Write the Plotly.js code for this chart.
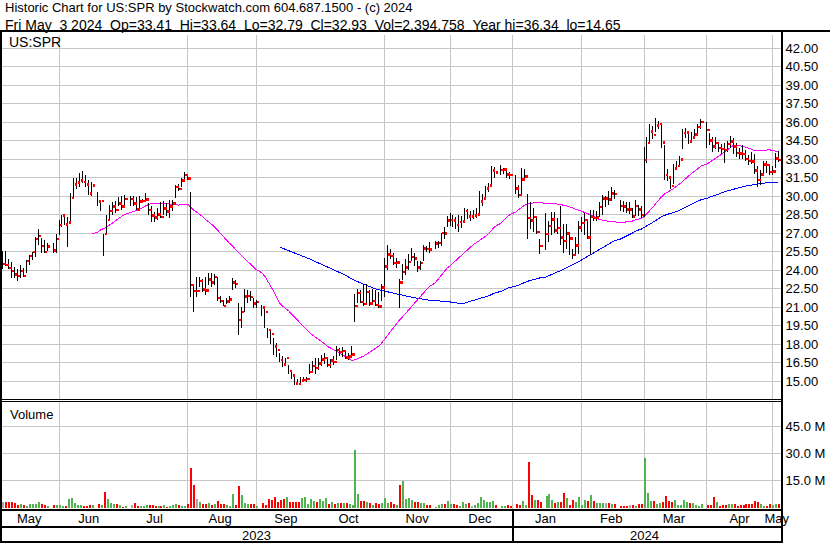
<!DOCTYPE html>
<html><head><meta charset="utf-8">
<script src="https://cdn.plot.ly/plotly-3.0.1.min.js"></script>
<style>html,body{margin:0;padding:0;background:#fff;}#chart{width:830px;height:543px;}
#chart .scatterlayer path, #chart .barlayer path, #chart .shapelayer path { shape-rendering: crispEdges; }
</style>
</head><body><div id="chart"></div>
<script>
// ---------- data ----------
const firstDay = '2023-05-05';
const lastDay = '2024-05-03';
const holidays = ['2023-05-29','2023-06-19','2023-07-04','2023-09-04','2023-11-23','2023-12-25','2024-01-01','2024-01-15','2024-02-19','2024-03-29'];

const closes = [
 24.50,24.40,24.15,23.90,23.65,23.50,23.90,23.50,24.75,25.15,25.45,26.50,26.75,25.95,25.45,25.90,25.60,26.50,
 27.65,28.40,27.70,27.85,29.85,30.95,31.10,31.25,31.15,30.95,30.20,30.85,29.55,29.60,26.90,28.05,28.80,29.15,28.85,29.40,29.15,
 29.75,29.75,29.40,28.90,29.55,29.60,29.70,28.85,28.40,28.25,28.50,28.30,29.00,28.75,29.15,29.40,30.75,30.55,31.25,31.70,
 31.40,22.80,22.30,22.30,23.10,22.40,22.35,23.25,23.00,23.45,21.75,21.50,21.10,21.45,21.60,23.00,22.85,19.95,20.60,21.85,21.90,21.80,21.30,
 21.40,20.95,20.60,19.15,18.80,17.80,17.50,16.70,16.35,16.85,15.80,15.45,14.80,14.75,15.05,15.10,15.15,15.75,16.20,16.05,
 16.40,16.75,16.85,16.30,16.65,16.55,17.50,17.35,17.45,16.90,17.00,17.15,21.10,22.15,21.40,21.25,22.20,21.30,21.50,21.15,21.05,22.60,
 24.30,25.25,25.15,24.55,24.60,23.00,23.85,24.20,24.65,25.05,24.95,24.20,24.55,25.75,25.70,25.65,26.15,26.20,27.00,26.95,28.00,
 28.05,28.00,27.65,27.90,27.95,28.80,28.35,28.35,28.40,28.50,29.55,29.80,30.60,30.85,32.05,31.90,32.10,32.15,31.75,31.70,
 30.60,30.10,31.35,31.60,28.20,28.00,28.30,27.10,25.95,26.90,27.55,28.10,27.20,27.40,26.65,26.35,26.95,26.55,25.20,26.00,27.45,
 27.80,28.05,26.65,28.30,28.20,28.25,29.10,29.80,29.80,29.70,30.20,30.15,29.20,29.15,28.90,28.90,28.35,29.20,28.90,28.45,
 32.90,34.30,35.25,34.95,35.70,35.85,34.35,31.70,31.50,30.80,32.25,32.45,32.95,35.10,35.15,34.40,34.75,35.00,35.60,36.00,
 35.35,34.50,34.00,34.30,33.90,33.80,33.75,34.20,34.40,34.00,33.50,33.45,33.40,33.00,32.85,32.80,32.05,31.30,31.75,32.55,32.50,31.95,
 32.00,33.05,32.93
];
const highs = [
 25.55,25.55,24.90,24.65,24.25,24.10,24.40,24.20,24.80,25.20,25.50,26.65,27.30,26.60,26.45,26.20,26.20,26.90,
 28.05,28.50,28.45,28.30,30.25,31.50,31.50,31.85,32.00,31.70,31.30,31.15,30.35,29.70,26.95,28.45,29.25,29.55,29.60,29.95,30.00,
 30.10,30.00,30.00,29.95,30.00,29.75,30.25,29.45,29.15,28.70,29.00,29.50,29.60,29.45,29.70,29.70,30.90,31.00,31.45,31.95,
 31.80,30.35,22.80,23.45,23.45,23.30,23.45,23.75,23.75,23.70,23.45,21.90,21.60,21.75,21.90,23.35,23.20,21.30,21.00,22.50,22.35,22.30,21.75,
 21.60,21.20,21.05,19.30,19.20,18.45,18.10,17.25,17.00,16.90,16.30,15.90,15.45,15.20,15.30,15.30,15.35,16.35,16.65,16.90,
 16.90,17.10,17.30,16.90,16.80,17.00,17.85,17.70,17.75,17.50,17.25,17.80,22.05,22.45,22.40,22.90,22.90,22.40,22.50,22.40,22.20,22.90,
 25.00,26.00,25.70,25.35,25.00,23.30,24.50,24.90,25.30,25.80,25.40,24.70,24.75,26.00,25.95,26.30,26.35,26.35,27.00,27.45,28.40,
 28.60,28.45,28.30,28.50,28.35,29.00,28.95,28.80,28.90,29.00,30.40,30.15,30.85,31.05,32.45,32.35,32.50,32.30,32.20,31.95,
 31.70,30.90,32.25,32.20,30.20,29.50,29.00,28.30,26.50,28.60,28.00,28.70,28.70,28.20,29.20,27.70,27.70,26.90,25.70,26.70,28.00,
 28.30,28.60,28.00,28.90,28.90,28.80,29.50,30.10,30.00,30.40,30.75,30.50,29.70,29.60,29.50,29.55,29.00,29.70,29.30,29.20,
 34.00,34.80,35.80,35.70,36.34,36.10,35.90,34.10,32.20,31.50,32.60,32.80,33.25,35.40,35.50,35.20,35.20,35.40,35.80,36.25,
 36.00,35.10,34.80,34.80,34.40,34.20,34.30,34.50,34.90,34.70,34.30,33.90,34.10,33.70,33.30,33.60,33.40,32.40,32.10,32.80,32.80,32.60,
 32.40,33.50,33.64
];
const lows = [
 24.10,24.30,24.10,23.35,23.35,23.10,23.35,23.45,23.75,24.40,24.80,25.05,26.00,25.40,25.40,25.55,25.40,25.40,
 26.85,27.50,27.65,25.85,27.80,29.90,30.60,30.75,31.05,30.75,30.10,30.00,29.15,28.75,25.15,26.85,28.05,28.45,28.60,29.15,28.85,
 29.15,29.15,29.15,28.85,28.90,29.45,29.55,28.45,27.90,27.90,28.05,28.20,28.45,28.35,28.25,28.80,29.85,30.40,30.75,31.15,
 31.30,21.85,20.60,21.85,22.60,22.20,22.00,22.80,22.60,22.80,21.45,21.30,21.05,21.25,21.30,22.40,22.55,18.70,19.30,20.60,21.35,21.45,20.90,
 20.90,20.25,19.30,18.50,18.00,17.10,16.95,16.55,16.10,16.30,15.55,15.20,14.65,14.65,14.80,14.90,14.95,15.60,15.75,15.60,
 15.90,16.20,16.40,16.10,16.05,16.30,16.70,17.05,16.95,16.75,16.70,17.00,19.75,21.35,21.35,21.10,21.20,21.10,21.20,21.10,20.95,21.50,
 21.80,24.00,24.90,24.40,24.20,20.95,23.20,23.60,24.00,24.70,24.30,23.85,24.00,24.70,25.45,25.40,25.70,25.80,25.95,26.55,27.45,
 27.60,27.50,27.35,27.10,27.40,27.90,28.10,28.00,28.10,28.20,28.50,29.20,29.70,30.30,30.80,31.50,31.70,31.80,31.50,31.40,
 30.20,29.85,30.10,31.20,26.55,27.30,27.10,26.95,25.30,25.60,26.30,26.80,27.00,26.95,26.00,25.40,25.70,25.25,24.90,25.30,25.30,
 27.10,26.80,26.50,25.30,28.00,27.95,28.30,28.50,29.10,29.30,29.60,29.75,28.75,28.70,28.60,28.55,28.25,28.40,28.40,28.20,
 28.30,32.70,34.20,34.60,35.20,35.40,33.90,31.30,31.20,30.60,31.00,32.10,32.45,33.80,34.70,34.20,34.30,34.60,34.90,35.40,
 33.90,34.10,33.60,33.80,33.60,33.40,32.70,33.60,33.90,33.40,33.20,33.00,33.00,32.80,32.50,32.60,31.80,30.70,30.90,31.60,31.90,31.70,
 31.70,32.30,32.79
];
// volume in millions of shares
const volumes = [
 3.1,3.1,3.5,3.1,2.9,1.9,2.3,1.9,1.2,2.3,2.3,2.3,3.5,2.3,1.9,1.2,1.5,1.5,
 1.5,1.2,1.2,5.2,5.6,2.9,1.7,1.7,1.2,1.2,1.7,1.7,2.3,1.7,8.7,5.2,2.9,2.1,2.1,1.7,0.8,
 1.0,1.7,2.9,1.3,1.2,1.3,1.5,1.7,1.5,1.2,1.3,1.2,1.5,0.4,1.2,1.7,2.1,1.9,1.2,1.2,
 2.3,21.9,12.7,5.2,3.3,2.3,2.3,2.9,1.5,2.3,3.8,2.3,2.3,1.7,1.2,7.5,1.7,12.1,6.9,2.9,2.3,2.3,2.3,
 1.2,2.9,1.7,5.2,4.6,6.3,3.1,4.6,5.2,6.3,3.3,3.3,3.3,3.1,5.6,6.3,2.1,5.0,3.8,3.5,
 5.0,3.8,5.4,2.3,3.3,2.3,2.9,2.9,2.7,2.9,2.1,1.7,32.1,7.9,3.8,3.8,3.1,2.5,1.7,2.7,2.3,2.9,
 5.6,2.9,3.5,2.3,1.7,12.7,14.8,5.2,5.6,4.2,3.5,3.1,2.9,2.9,1.5,1.7,0.4,1.7,2.1,2.1,3.8,
 2.1,2.1,1.7,1.3,3.3,2.1,2.9,1.3,1.7,2.9,6.3,4.2,3.3,3.3,3.8,1.5,1.0,1.2,1.7,1.0,
 2.1,1.7,3.8,1.7,25.2,7.3,4.2,4.6,3.3,6.7,7.9,4.2,2.9,3.1,3.1,8.5,5.6,1.7,4.2,3.3,6.2,
 1.5,4.2,3.8,7.3,3.8,2.7,2.7,2.7,2.7,2.7,2.3,2.3,1.0,1.0,1.0,1.5,1.5,1.3,2.3,2.3,
 27.5,8.5,3.8,4.0,2.3,2.7,3.5,6.7,3.8,3.1,4.2,1.5,1.5,4.2,3.1,2.7,2.7,1.7,1.0,2.1,
 1.7,1.7,6.2,3.3,1.3,1.5,1.5,2.1,2.1,2.1,1.0,1.7,1.5,2.1,2.3,2.1,3.7,3.1,2.1,1.2,1.3,2.1,
 1.5,2.1,2.4
];
const maShort = 30, maLong = 90;

const monthStarts = ['2023-06-01','2023-07-01','2023-08-01','2023-09-01','2023-10-01','2023-11-01','2023-12-01','2024-01-01','2024-02-01','2024-03-01','2024-04-01','2024-05-01'];
const monthLabels = ['May','Jun','Jul','Aug','Sep','Oct','Nov','Dec','Jan','Feb','Mar','Apr','May'];
const monthLabelDates = ['2023-05-18','2023-06-15','2023-07-17','2023-08-16','2023-09-15','2023-10-16','2023-11-16','2023-12-15','2024-01-16','2024-02-15','2024-03-15','2024-04-16','2024-05-02 12:00'];
const yearLabels = ['2023','2024'];
const yearLabelDates = ['2023-09-01','2024-03-01'];
const volTickVals = [15,30,45];
const volTickText = ['15.0 M','30.0 M','45.0 M'];

const headerLine1 = 'Historic Chart for US:SPR by Stockwatch.com 604.687.1500 - (c) 2024';
const headerLine2 = 'Fri May  3 2024  Op=33.41  Hi=33.64  Lo=32.79  Cl=32.93  Vol=2,394,758  Year hi=36.34  lo=14.65';
const symbolLabel = 'US:SPR';
const volumeLabel = 'Volume';

// ---------- build ----------
function tradingDays(start, end, hol){
  const out=[]; const d=new Date(start+'T00:00:00Z'); const e=new Date(end+'T00:00:00Z');
  while(d<=e){ const wd=d.getUTCDay(); const s=d.toISOString().slice(0,10);
    if(wd!==0 && wd!==6 && hol.indexOf(s)<0) out.push(s);
    d.setUTCDate(d.getUTCDate()+1); }
  return out;
}
const dates = tradingDays(firstDay, lastDay, holidays);

function sma(arr, n){ const xs=[], ys=[];
  for(let i=n-1;i<arr.length;i++){ let s=0; for(let j=i-n+1;j<=i;j++) s+=arr[j]; xs.push(dates[i]); ys.push(s/n); }
  return {x:xs, y:ys}; }
const ma1 = sma(closes, maShort), ma2 = sma(closes, maLong);

const hlX=[], hlY=[];
dates.forEach((d,i)=>{ hlX.push(d,d,null); hlY.push(highs[i],lows[i],null); });
const closeX = dates.map(d=>d+' 16:00');

const GREEN='#4fb44f', RED='#ff0000', GRAY='#a8a8a8', GRID='#c6c6c6';
const volColors = closes.map((c,i)=> (i===0 || c===closes[i-1]) ? GRAY : (c>closes[i-1] ? GREEN : RED));

const DAY = 86400000;
const xRange = ['2023-05-04 21:36','2024-05-03 21:36'];
const rb = [{bounds:['sat','mon']}];

const traces = [
  {type:'scatter', mode:'lines', x:ma2.x, y:ma2.y, xaxis:'x2', yaxis:'y', line:{color:'#0000ff', width:1}, hoverinfo:'skip'},
  {type:'scatter', mode:'lines', x:ma1.x, y:ma1.y, xaxis:'x2', yaxis:'y', line:{color:'#ff00ff', width:1}, hoverinfo:'skip'},
  {type:'scatter', mode:'lines', x:hlX, y:hlY, xaxis:'x2', yaxis:'y', line:{color:'#000000', width:1}, connectgaps:false, hoverinfo:'skip'},
  {type:'scatter', mode:'markers', x:closeX, y:closes, xaxis:'x2', yaxis:'y', marker:{symbol:'square', size:2.5, color:RED, line:{width:0}}},
  {type:'bar', x:dates, y:volumes, xaxis:'x', yaxis:'y2', marker:{color:volColors, line:{width:0}}, width:0.67*DAY, offset:0}
];

// pixel helpers: plot area spans x 2..781, y 35..509
const px2xp = px => (px-2)/779;
const px2yp = py => (509-py)/474;
const hline = (y, x0, x1, w) => ({type:'line', xref:'paper', yref:'paper', x0:px2xp(x0), x1:px2xp(x1), y0:px2yp(y), y1:px2yp(y), line:{color:'#000', width:w}, layer:'above'});
const vline = (x, y0, y1, w) => ({type:'line', xref:'paper', yref:'paper', x0:px2xp(x), x1:px2xp(x), y0:px2yp(y0), y1:px2yp(y1), line:{color:'#000', width:w}, layer:'above'});

const nb = s => s.replace(/ /g,'\u00a0');
const FONT = '"Liberation Sans", Arial, sans-serif';

const xBase = {type:'date', range:xRange, rangebreaks:rb, showline:false, zeroline:false, ticks:'', fixedrange:true,
  minor:{tickmode:'array', tickvals:monthStarts, showgrid:true, gridcolor:GRID, gridwidth:1, ticks:''}};

const layout = {
  width:830, height:543,
  margin:{l:2, r:49, t:35, b:34, pad:0},
  paper_bgcolor:'#ffffff', plot_bgcolor:'#ffffff',
  showlegend:false, bargap:0,
  font:{family:FONT, size:13, color:'#000'},
  xaxis: Object.assign({}, xBase, {anchor:'y2', domain:[0,1], tickmode:'array', tickvals:monthLabelDates, ticktext:monthLabels, showgrid:false, tickfont:{size:13, color:'#000'}}),
  xaxis2: Object.assign({}, xBase, {anchor:'y', domain:[0,1], showticklabels:false, showgrid:false}),
  yaxis: {domain:[(509-399)/474,1], anchor:'x2', side:'right', range:[13.5405,43.054], tickmode:'linear', tick0:0, dtick:1.5, tickformat:'.2f',
    showgrid:true, gridcolor:GRID, gridwidth:1, zeroline:false, showline:false, ticks:'outside', ticklen:1, tickcolor:'rgba(0,0,0,0)', tickfont:{size:13}, fixedrange:true},
  yaxis2: {domain:[0,107/474], anchor:'x', side:'right', range:[-0.556,58.33], tickmode:'array', tickvals:volTickVals, ticktext:volTickText,
    showgrid:true, gridcolor:GRID, gridwidth:1, zeroline:false, showline:false, ticks:'outside', ticklen:1, tickcolor:'rgba(0,0,0,0)', tickfont:{size:13}, fixedrange:true},
  shapes: [
    hline(30.5, 0, 830, 2),
    vline(1, 30, 543, 2),
    vline(782, 30, 543, 2),
    hline(399.5, 0, 782, 1),
    hline(401.5, 0, 782, 1),
    hline(510, 0, 782, 2),
    hline(527, 0, 782, 2),
    hline(542, 0, 782, 2),
    {type:'line', xref:'x', yref:'paper', x0:'2024-01-01', x1:'2024-01-01', y0:px2yp(510), y1:px2yp(543), line:{color:'#000', width:2}, layer:'above'}
  ],
  annotations: [
    {xref:'paper', yref:'paper', x:px2xp(3), y:px2yp(8), xanchor:'left', yanchor:'middle', text:nb(headerLine1), showarrow:false, font:{size:13}},
    {xref:'paper', yref:'paper', x:px2xp(3), y:px2yp(24.5), xanchor:'left', yanchor:'middle', text:nb(headerLine2), showarrow:false, font:{size:14}},
    {xref:'paper', yref:'paper', x:px2xp(7), y:px2yp(42), xanchor:'left', yanchor:'middle', text:symbolLabel, showarrow:false, font:{size:14}},
    {xref:'paper', yref:'paper', x:px2xp(8), y:px2yp(414), xanchor:'left', yanchor:'middle', text:volumeLabel, showarrow:false, font:{size:13}}
  ].concat(yearLabels.map((t,i)=>({xref:'x', yref:'paper', x:yearLabelDates[i], y:px2yp(535), xanchor:'center', yanchor:'middle', text:t, showarrow:false, font:{size:13}})))
};

Plotly.newPlot('chart', traces, layout, {staticPlot:true, displayModeBar:false});
</script>
</body></html>
